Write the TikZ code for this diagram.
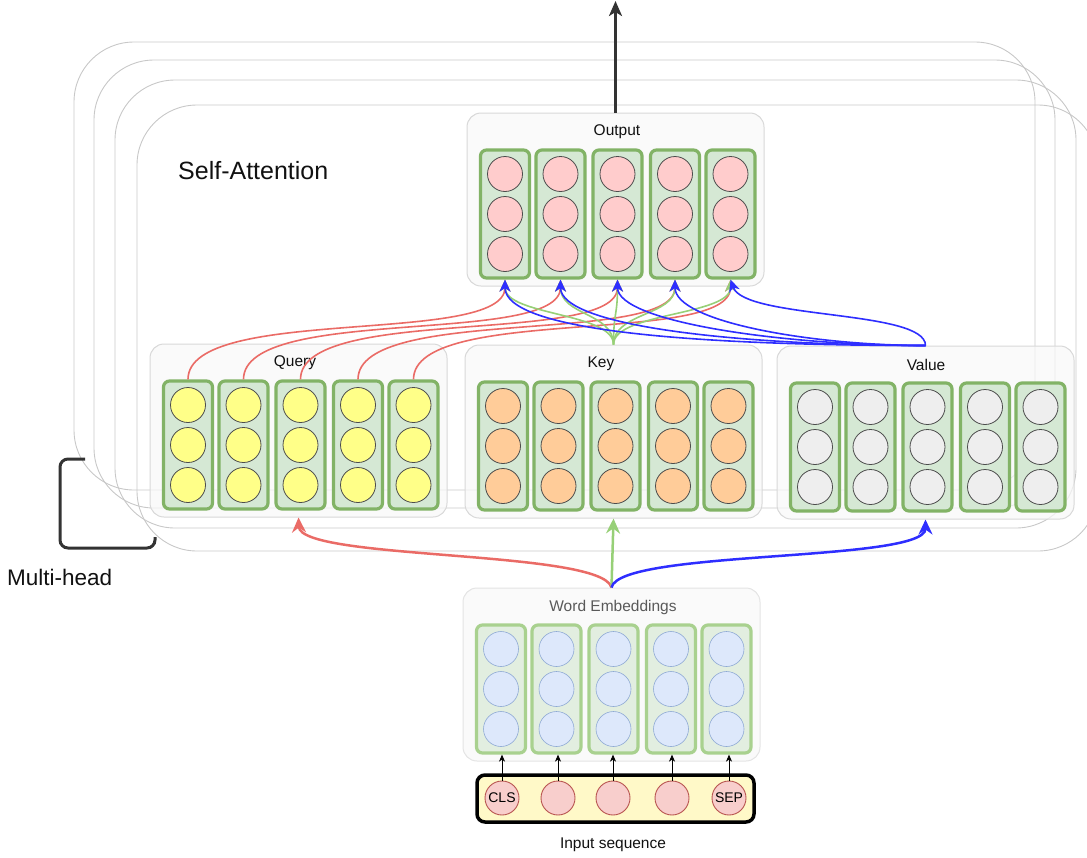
\documentclass[tikz,border=0pt]{standalone}
\usepackage{fontspec}
\setmainfont{Liberation Sans}
\usetikzlibrary{arrows.meta,calc}

\definecolor{framegray}{HTML}{C8C8C8}
\definecolor{panelfill}{HTML}{F8F8F8}
\definecolor{paneldraw}{HTML}{D8D8D8}
\definecolor{colfill}{HTML}{D5E8D4}
\definecolor{coldraw}{HTML}{82B366}
\definecolor{fadecolfill}{HTML}{E2EEE0}
\definecolor{fadecoldraw}{HTML}{A9D18F}
\definecolor{pinkdot}{HTML}{FFCCCC}
\definecolor{yellowdot}{HTML}{FFFF88}
\definecolor{orangedot}{HTML}{FFCC99}
\definecolor{graydot}{HTML}{EEEEEE}
\definecolor{bluedot}{HTML}{DDE8FB}
\definecolor{bluedotdraw}{HTML}{8EA9D4}
\definecolor{tokfill}{HTML}{F8CECC}
\definecolor{tokdraw}{HTML}{B85450}
\definecolor{seqfill}{HTML}{FFF9C8}
\definecolor{qred}{HTML}{EA6B66}
\definecolor{kgreen}{HTML}{97D077}
\definecolor{vblue}{HTML}{2E2EFF}
\definecolor{darkline}{HTML}{333333}
\definecolor{labelink}{HTML}{111111}

\tikzset{
  frame/.style={draw=framegray, line width=0.9pt, rounded corners=60pt},
  plainbox/.style={draw=paneldraw, fill=panelfill, fill opacity=0.75, line width=1pt,
    rounded corners=14pt, minimum width=297pt, minimum height=173pt, inner sep=0pt},
  fadedbox/.style={plainbox, draw=paneldraw!70},
  plaincol/.style={draw=coldraw, fill=colfill, line width=3.2pt, rounded corners=6pt,
    minimum width=49pt, minimum height=128pt, inner sep=0pt},
  fadedcol/.style={plaincol, draw=fadecoldraw, fill=fadecolfill},
  plainlabel/.style={text=labelink, font=\fontsize{15.5}{18}\selectfont, inner sep=0pt},
  fadedlabel/.style={plainlabel, text=black!65},
  dot/.style={circle, minimum size=35pt, inner sep=0pt, draw=black!70, line width=0.8pt},
  outdot/.style={dot, fill=pinkdot},
  qdot/.style={dot, fill=yellowdot},
  kdot/.style={dot, fill=orangedot},
  vdot/.style={dot, fill=graydot},
  wedot/.style={dot, fill=bluedot, draw=bluedotdraw, line width=0.6pt},
  tokdot/.style={circle, minimum size=34pt, inner sep=0pt, draw=tokdraw, line width=0.9pt,
    fill=tokfill, font=\fontsize{14}{16}\selectfont},
  seqbox/.style={draw=black, line width=3.5pt, fill=seqfill, rounded corners=8pt,
    minimum width=277pt, minimum height=47pt, inner sep=0pt},
  smallhead/.style={-{Stealth[length=12pt,width=11pt,inset=3.5pt]}},
  bighead/.style={-{Stealth[length=15pt,width=14pt,inset=5pt]}},
  qedge/.style={draw=qred, line width=1.6pt, smallhead},
  kedge/.style={draw=kgreen, line width=1.6pt, smallhead},
  vedge/.style={draw=vblue, line width=1.6pt, smallhead},
  tokarrow/.style={draw=black, line width=0.9pt, -{Stealth[length=7pt,width=6pt,inset=2pt]}},
  title/.style={text=labelink, inner sep=0pt, anchor=west},
}

% A panel of five vectors, each a column of three units.
% #1 name, #2 left, #3 top, #4 look (plain/faded), #5 unit style, #6 label, #7 label x
\newcommand{\vecpanel}[7]{%
  \node[#4box] (#1) at (#2+148.5, #3+86.5) {};
  \node[#4label] (#1-label) at (#7, #3+19) {#6};
  \foreach \i/\off in {1/38, 2/93.5, 3/150.5, 4/208, 5/263.5} {
    \node[#4col] (#1c\i) at (#2+\off, #3+101) {};
    \foreach \j/\dy in {1/-40, 2/0, 3/40}
      \node[#5] (#1c\i-\j) at (#2+\off, #3+101+\dy) {};
  }%
}

\begin{document}
\begin{tikzpicture}[x=1pt, y=-1pt]
  \useasboundingbox (0,0) rectangle (1087,857);
  \clip (0,0) rectangle (1087,857);

  % stacked attention heads
  \draw[frame] (74,42) rectangle +(961,448);
  \draw[frame] (94,60) rectangle +(961,448);
  \draw[frame] (115,80) rectangle +(961,448);
  \draw[frame] (137,105) rectangle +(961,446);

  \node[title, font=\fontsize{25}{29}\selectfont] (satitle) at (178,171) {Self-Attention};

  % multi-head bracket
  \draw[darkline, line width=3pt, rounded corners=8pt]
    (85,459) -- (60,459) -- (60,548) -- (155,548) -- (155,537);
  \node[title, font=\fontsize{22.5}{26}\selectfont] (mhtitle) at (7,577) {Multi-head};

  % panels
  \vecpanel{out}{467}{113}{plain}{outdot}{Output}{617}
  \vecpanel{qry}{150}{344}{plain}{qdot}{Query}{295}
  \vecpanel{key}{465}{345}{plain}{kdot}{Key}{601}
  \vecpanel{val}{777}{346}{plain}{vdot}{Value}{926}
  \vecpanel{emb}{463}{588}{faded}{wedot}{Word Embeddings}{613}

  % output arrow
  \coordinate (top) at (615.5,1);
  \draw[darkline, line width=3pt, -{Stealth[length=15pt,width=13pt,inset=4pt]}] (out.north) -- (top);

  % input sequence
  \node[seqbox] (seq) at (615.5,798.5) {};
  \node[tokdot] (in1) at (502,798) {CLS};
  \node[tokdot] (in2) at (558,798) {};
  \node[tokdot] (in3) at (613,798) {};
  \node[tokdot] (in4) at (672,798) {};
  \node[tokdot] (in5) at (729,798) {SEP};
  \node[plainlabel] (seqlabel) at (613,845) {Input sequence};
  \foreach \i in {1,...,5}
    \draw[tokarrow] (in\i.north) -- (in\i.north |- embc\i.south);

  % embeddings feed query, key and value
  \draw[draw=qred, line width=2.5pt, bighead]
    (emb.north) .. controls +(-10,-38) and +(1.5,43) .. (qry.south);
  \draw[draw=kgreen, line width=2.5pt, bighead] (emb.north) -- (key.south);
  \draw[draw=vblue, line width=2.5pt, bighead]
    (emb.north) .. controls +(8,-38) and +(0,43) .. (val.south);

  % queries to outputs
  \foreach \i in {1,...,5}
    \draw[qedge] (qryc\i.north) .. controls +(0,-75) and +(0,67) .. (outc\i.south);

  % keys to outputs
  \foreach \i in {1,...,5}
    \draw[kedge] (key.north) .. controls +(0,-32) and +(0,36) .. (outc\i.south);

  % values to outputs
  \draw[vedge] (val.north) .. controls +(-225,0) and +(0,52) .. (outc1.south);
  \draw[vedge] (val.north) .. controls +(-185,0) and +(0,47) .. (outc2.south);
  \draw[vedge] (val.north) .. controls +(-145,0) and +(0,42) .. (outc3.south);
  \draw[vedge] (val.north) .. controls +(-115,0) and +(0,42) .. (outc4.south);
  \draw[vedge] (val.north) .. controls +(0,-36) and +(14,40) .. (outc5.south);
\end{tikzpicture}
\end{document}
